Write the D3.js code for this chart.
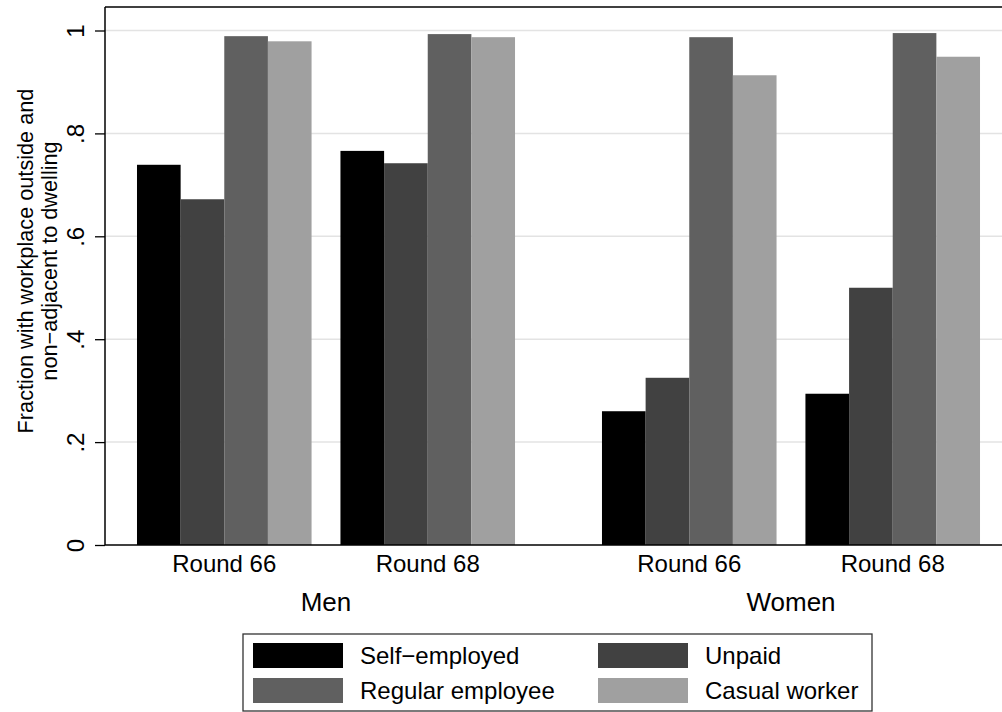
<!DOCTYPE html>
<html>
<head>
<meta charset="utf-8">
<script src="https://cdn.jsdelivr.net/npm/d3@7"></script>
<style>
  body { margin: 0; background: #fff; }
  svg { display: block; font-family: "Liberation Sans", Arial, sans-serif; }
</style>
</head>
<body>
<svg id="chart"></svg>
<script>
// Data
const sexes = ["Men", "Women"]
const rounds = ["Round 66", "Round 68"]
const series = ["Self\u2212employed", "Unpaid", "Regular employee", "Casual worker"]
const selfEmployed = [0.739, 0.766, 0.260, 0.294]
const unpaid = [0.672, 0.742, 0.325, 0.500]
const regularEmployee = [0.989, 0.993, 0.987, 0.995]
const casualWorker = [0.979, 0.987, 0.913, 0.949]
const yTicks = [0, 0.2, 0.4, 0.6, 0.8, 1]
const yTickLabels = ["0", ".2", ".4", ".6", ".8", "1"]
const colors = ["#000000", "#414141", "#606060", "#a0a0a0"]

// Build rows: one per bar
const seriesValues = [selfEmployed, unpaid, regularEmployee, casualWorker]
const rows = []
sexes.forEach((sex, si) => {
    rounds.forEach((round, ri) => {
        series.forEach((s, k) => {
            rows.push({ sex: sex, round: round, series: s, value: seriesValues[k][si * rounds.length + ri] })
        })
    })
})

// Canvas
const widthSvg = 1002
const heightSvg = 712
const plot = { left: 105, right: 1012, top: 7, bottom: 545 }

const svg = d3.select("#chart")
    .attr("width", widthSvg)
    .attr("height", heightSvg)

// Scales
const yScale = d3.scaleLinear()
    .domain([0, 1])
    .range([plot.bottom, 30.5])

const xSex = d3.scaleBand()
    .domain(sexes)
    .range([plot.left, plot.right])
    .paddingInner(0.187)
    .paddingOuter(0.0688)

const xRound = d3.scaleBand()
    .domain(rounds)
    .range([0, xSex.bandwidth()])
    .paddingInner(0.142)
    .paddingOuter(0)

const xSeries = d3.scaleBand()
    .domain(series)
    .range([0, xRound.bandwidth()])
    .padding(0)

const color = d3.scaleOrdinal().domain(series).range(colors)

// Gridlines
svg.append("g")
    .selectAll("line")
    .data(yTicks.filter(d => d > 0))
    .enter()
    .append("line")
    .attr("x1", plot.left)
    .attr("x2", plot.right)
    .attr("y1", d => yScale(d))
    .attr("y2", d => yScale(d))
    .attr("stroke", "#e3e3e3")
    .attr("stroke-width", 1.5)

// Bars
svg.append("g")
    .selectAll("rect")
    .data(rows)
    .enter()
    .append("rect")
    .attr("x", d => xSex(d.sex) + xRound(d.round) + xSeries(d.series))
    .attr("y", d => yScale(d.value))
    .attr("width", xSeries.bandwidth())
    .attr("height", d => yScale(0) - yScale(d.value))
    .attr("fill", d => color(d.series))

// Frame: top border
svg.append("line")
    .attr("x1", plot.left).attr("x2", plot.right)
    .attr("y1", plot.top).attr("y2", plot.top)
    .attr("stroke", "#000").attr("stroke-width", 1.5)

// Y axis
const yAxis = d3.axisLeft(yScale)
    .tickValues(yTicks)
    .tickSize(10)
    .tickFormat((d, i) => yTickLabels[i])

const yG = svg.append("g")
    .attr("transform", "translate(" + plot.left + ",0)")
    .call(yAxis)
yG.select(".domain").remove()
yG.selectAll(".tick line").attr("stroke", "#000").attr("stroke-width", 1.3)
yG.selectAll(".tick text")
    .attr("x", 0).attr("dy", 0)
    .attr("transform", "translate(-21,0) rotate(-90)")
    .attr("text-anchor", "middle")
    .attr("font-size", "24px")
    .attr("fill", "#000")

svg.append("line")
    .attr("x1", plot.left).attr("x2", plot.left)
    .attr("y1", plot.top).attr("y2", plot.bottom)
    .attr("stroke", "#000").attr("stroke-width", 1.5)

// X axis line
svg.append("line")
    .attr("x1", plot.left).attr("x2", plot.right)
    .attr("y1", plot.bottom).attr("y2", plot.bottom)
    .attr("stroke", "#000").attr("stroke-width", 1.5)

// Round labels
const roundLabels = []
sexes.forEach(sex => rounds.forEach(round => roundLabels.push({ sex: sex, round: round })))
svg.append("g")
    .selectAll("text")
    .data(roundLabels)
    .enter()
    .append("text")
    .attr("x", d => xSex(d.sex) + xRound(d.round) + xRound.bandwidth() / 2)
    .attr("y", 572)
    .attr("text-anchor", "middle")
    .attr("font-size", "24px")
    .text(d => d.round)

// Sex labels
svg.append("g")
    .selectAll("text")
    .data(sexes)
    .enter()
    .append("text")
    .attr("x", d => xSex(d) + xSex.bandwidth() / 2)
    .attr("y", 611)
    .attr("text-anchor", "middle")
    .attr("font-size", "26px")
    .text(d => d)

// Y axis title
const yTitle = svg.append("text")
    .attr("transform", "translate(33,261) rotate(-90)")
    .attr("text-anchor", "middle")
    .attr("font-size", "21.7px")
yTitle.append("tspan").attr("x", 0).attr("y", 0).text("Fraction with workplace outside and")
yTitle.append("tspan").attr("x", 0).attr("y", 24).text("non\u2212adjacent to dwelling")

// Legend
const legend = svg.append("g")
legend.append("rect")
    .attr("x", 243).attr("y", 634)
    .attr("width", 629).attr("height", 77)
    .attr("fill", "#fff")
    .attr("stroke", "#333").attr("stroke-width", 1.3)

const legendItems = legend.selectAll("g.item")
    .data(series)
    .enter()
    .append("g")
    .attr("class", "item")
    .attr("transform", (d, i) => "translate(" + (253 + (i % 2) * 345) + "," + (643 + Math.floor(i / 2) * 35) + ")")

legendItems.append("rect")
    .attr("width", 90)
    .attr("height", 25)
    .attr("fill", d => color(d))

legendItems.append("text")
    .attr("x", 107)
    .attr("y", 21)
    .attr("font-size", "24px")
    .text(d => d)
</script>
</body>
</html>
